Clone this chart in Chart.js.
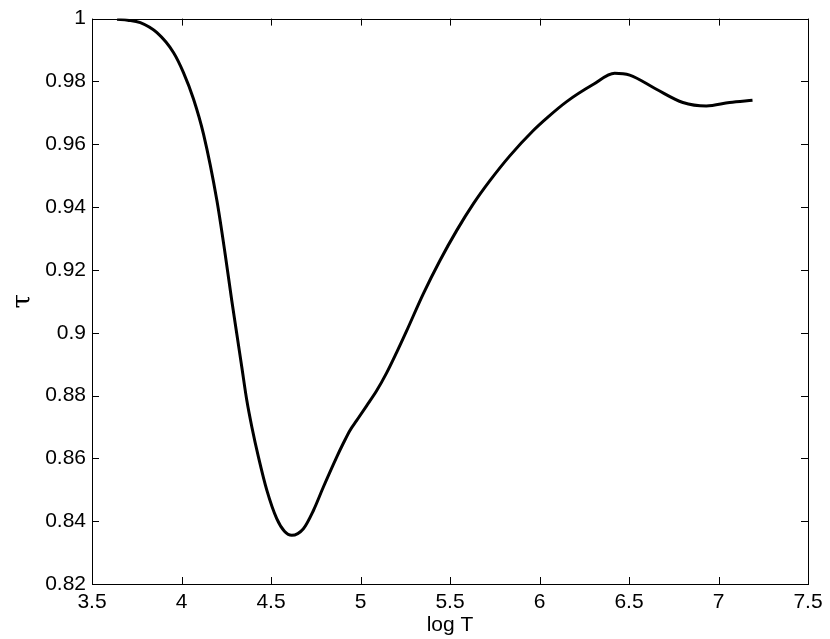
<!DOCTYPE html>
<html>
  <body style="margin:0; background:#fff;">
    <div style="width:830px; height:639px;">
      <canvas id="tau"></canvas>
    </div>

    <script src="https://cdn.jsdelivr.net/npm/chart.js"></script>
    <script>
      // log T vs tau
      const logT = [3.64, 3.70, 3.77, 3.863, 3.955, 4.011, 4.067, 4.123, 4.198, 4.244,
                    4.281, 4.309, 4.337, 4.365, 4.393, 4.43, 4.477, 4.532, 4.575, 4.616,
                    4.681, 4.737, 4.792, 4.867, 4.904, 4.941, 4.978, 5.035, 5.09, 5.146,
                    5.2, 5.257, 5.35, 5.444, 5.537, 5.63, 5.723, 5.834, 5.964, 6.05,
                    6.15, 6.299, 6.42, 6.504, 6.653, 6.801, 6.932, 7.062, 7.19];
      const tau = [0.9998, 0.9995, 0.9987, 0.9955, 0.9892, 0.9828, 0.9744, 0.9632, 0.942, 0.925,
                   0.9102, 0.8996, 0.889, 0.8784, 0.870, 0.8604, 0.8498, 0.8408, 0.8368, 0.8355,
                   0.8376, 0.8434, 0.8508, 0.8604, 0.8648, 0.8689, 0.872, 0.8768, 0.8815, 0.8872,
                   0.8935, 0.9005, 0.9123, 0.923, 0.9325, 0.941, 0.9484, 0.9563, 0.9643, 0.9688,
                   0.9735, 0.979, 0.9826, 0.982, 0.9775, 0.9733, 0.9722, 0.9733, 0.974];

      const xTicks = [3.5, 4, 4.5, 5, 5.5, 6, 6.5, 7, 7.5];
      const yTicks = [0.82, 0.84, 0.86, 0.88, 0.9, 0.92, 0.94, 0.96, 0.98, 1];

      const points = logT.map((x, i) => ({ x: x, y: tau[i] }));
      const fmt = v => String(Number(v.toFixed(2)));

      // matlab style box with inward ticks on all four sides
      const boxTicks = {
        id: 'boxTicks',
        afterDraw(chart) {
          const { ctx, chartArea: a, scales } = chart;
          const len = 7;
          ctx.save();
          ctx.strokeStyle = '#000';
          ctx.lineWidth = 1;
          ctx.beginPath();
          scales.x.ticks.forEach(t => {
            const px = Math.round(scales.x.getPixelForValue(t.value)) + 0.5;
            ctx.moveTo(px, a.bottom); ctx.lineTo(px, a.bottom - len);
            ctx.moveTo(px, a.top); ctx.lineTo(px, a.top + len);
          });
          scales.y.ticks.forEach(t => {
            const py = Math.round(scales.y.getPixelForValue(t.value)) + 0.5;
            ctx.moveTo(a.left, py); ctx.lineTo(a.left + len, py);
            ctx.moveTo(a.right, py); ctx.lineTo(a.right - len, py);
          });
          ctx.stroke();
          ctx.strokeRect(Math.round(a.left) + 0.5, Math.round(a.top) + 0.5,
                         Math.round(a.right - a.left), Math.round(a.bottom - a.top));
          ctx.restore();
        }
      };

      const ctx = document.getElementById('tau').getContext('2d');
      new Chart(ctx, {
        type: 'scatter',
        data: {
          datasets: [{
            data: points,
            showLine: true,
            borderColor: '#000',
            borderWidth: 3,
            pointRadius: 0,
            cubicInterpolationMode: 'monotone',
            fill: false
          }]
        },
        options: {
          responsive: true,
          maintainAspectRatio: false,
          animation: false,
          layout: { padding: { top: 18, right: 22, bottom: 0, left: 0 } },
          plugins: {
            legend: { display: false },
            tooltip: { enabled: false }
          },
          scales: {
            x: {
              type: 'linear',
              min: 3.5,
              max: 7.5,
              afterBuildTicks: s => { s.ticks = xTicks.map(v => ({ value: v })); },
              afterFit: s => { s.height = 55; },
              grid: { display: false, drawTicks: false },
              border: { display: false },
              ticks: {
                color: '#000',
                padding: 6,
                maxRotation: 0,
                callback: fmt,
                font: { family: 'Liberation Sans', size: 21 }
              },
              title: {
                display: true,
                text: 'log T',
                color: '#000',
                padding: { top: 0, bottom: 1 },
                font: { family: 'Liberation Sans', size: 21 }
              }
            },
            y: {
              type: 'linear',
              min: 0.82,
              max: 1,
              afterBuildTicks: s => { s.ticks = yTicks.map(v => ({ value: v })); },
              afterFit: s => { s.width = 92; },
              grid: { display: false, drawTicks: false },
              border: { display: false },
              ticks: {
                color: '#000',
                padding: 6,
                callback: fmt,
                font: { family: 'Liberation Sans', size: 21 }
              },
              title: {
                display: true,
                text: 'τ',
                color: '#000',
                padding: { top: 8, bottom: 0 },
                font: { family: 'DejaVu Serif', size: 26 }
              }
            }
          }
        },
        plugins: [boxTicks]
      });
    </script>
  </body>
</html>
